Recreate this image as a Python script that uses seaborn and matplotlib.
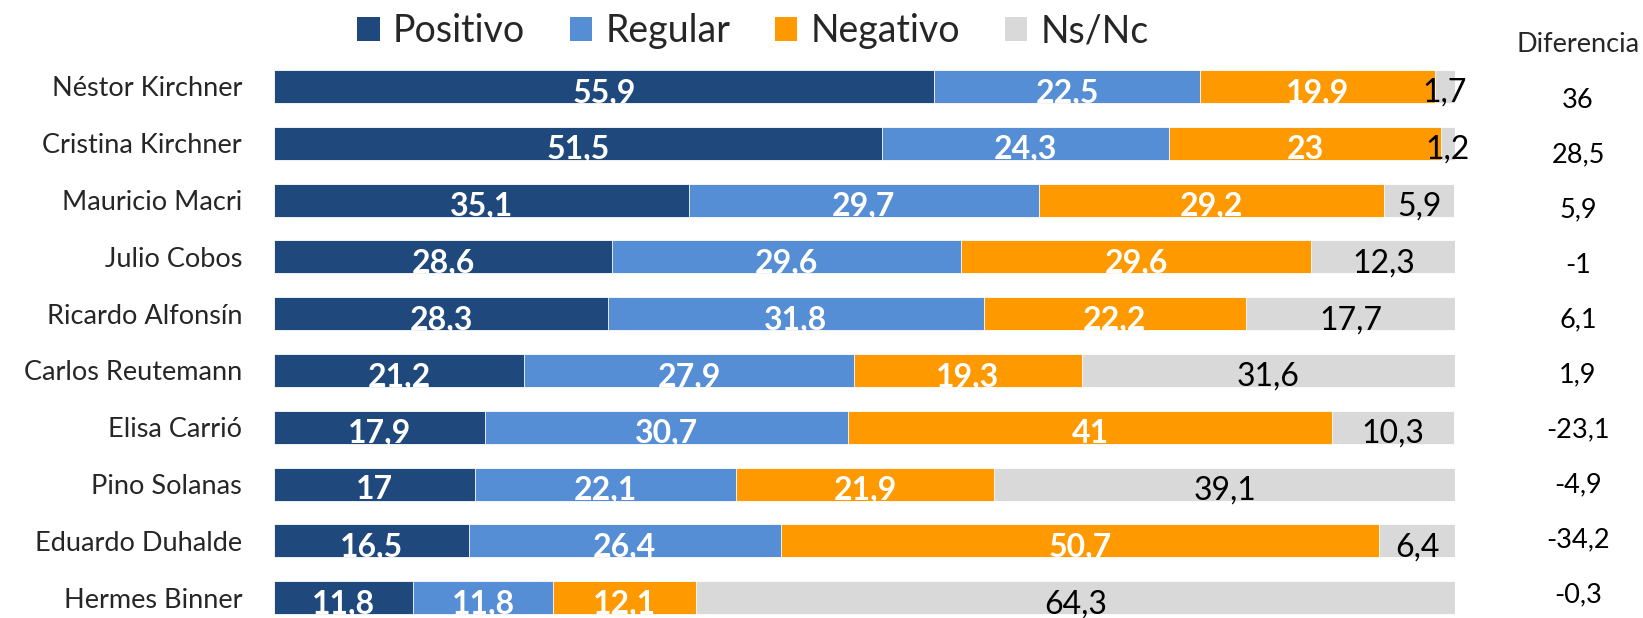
import matplotlib
matplotlib.use("Agg")
import matplotlib.pyplot as plt
from matplotlib.patches import Patch
import numpy as np
import pandas as pd
import seaborn as sns

# ---- data ----
politicos = ["Néstor Kirchner", "Cristina Kirchner", "Mauricio Macri", "Julio Cobos",
             "Ricardo Alfonsín", "Carlos Reutemann", "Elisa Carrió", "Pino Solanas",
             "Eduardo Duhalde", "Hermes Binner"]
positivo = [55.9, 51.5, 35.1, 28.6, 28.3, 21.2, 17.9, 17.0, 16.5, 11.8]
regular = [22.5, 24.3, 29.7, 29.6, 31.8, 27.9, 30.7, 22.1, 26.4, 11.8]
negativo = [19.9, 23.0, 29.2, 29.6, 22.2, 19.3, 41.0, 21.9, 50.7, 12.1]
nsnc = [1.7, 1.2, 5.9, 12.3, 17.7, 31.6, 10.3, 39.1, 6.4, 64.3]
diferencia = [36, 28.5, 5.9, -1, 6.1, 1.9, -23.1, -4.9, -34.2, -0.3]
series_names = ["Positivo", "Regular", "Negativo", "Ns/Nc"]
colors = ["#1F497D", "#558ED5", "#FF9900", "#D9D9D9"]
label_colors = ["white", "white", "white", "black"]
label_weights = ["bold", "bold", "bold", "normal"]

sns.set_style("white")
plt.rcParams["font.family"] = ["Lato", "DejaVu Sans"]

W, H = 1643, 618
fig = plt.figure(figsize=(W / 100, H / 100), dpi=100)

def px_axes(x0, y0, x1, y1):
    return fig.add_axes([x0 / W, 1 - y1 / H, (x1 - x0) / W, (y1 - y0) / H])

row_top, row_sp = 86.5, 56.8
ax = px_axes(274, row_top - row_sp / 2, 1455, row_top + 9.5 * row_sp)

df = pd.DataFrame({"name": politicos, "Positivo": positivo, "Regular": regular,
                   "Negativo": negativo, "Ns/Nc": nsnc})
vals = df[series_names].to_numpy()
cum = np.cumsum(vals, axis=1)

# draw stacked bars: largest cumulative first
for k in range(3, -1, -1):
    sns.barplot(x=cum[:, k], y=df["name"], orient="h", color=colors[k],
                width=0.58, saturation=1, edgecolor="white", linewidth=0.6,
                ax=ax)

ax.set_xlim(0, 100)
ax.set_ylim(9.5, -0.5)
ax.set_xlabel("")
ax.set_ylabel("")
ax.set_xticks([])
for s in ax.spines.values():
    s.set_visible(False)
ax.tick_params(axis="y", length=0, pad=23, labelsize=19.5)

def fmt(v):
    return f"{v:g}".replace(".", ",")

for i in range(len(politicos)):
    for k in range(4):
        v = vals[i, k]
        xc = cum[i, k] - v / 2
        ax.text(xc, i + 0.27, fmt(v), ha="center", va="baseline",
                color=label_colors[k], fontweight=label_weights[k], fontsize=23)

# diferencia column
ax2 = px_axes(1520, 100 - 27.5, 1636, 100 + 9.5 * 55)
ax2.set_xlim(0, 1)
ax2.set_ylim(9.5, -0.5)
ax2.axis("off")
for i, d in enumerate(diferencia):
    ax2.text(0.5, i, fmt(d), ha="center", va="center", fontsize=19.5, color="black")
fig.text(1578 / W, 1 - 44 / H, "Diferencia", ha="center", va="center", fontsize=19.5)

handles = [Patch(facecolor=c, edgecolor="none", label=n) for c, n in zip(colors, series_names)]
fig.legend(handles=handles, loc="center", bbox_to_anchor=(753 / W, 1 - 31 / H), ncol=4,
           frameon=False, fontsize=27, handlelength=0.59, handleheight=0.62,
           handletextpad=0.35, columnspacing=1.2, borderpad=0, borderaxespad=0)

fig.savefig("out.png", dpi=100)
